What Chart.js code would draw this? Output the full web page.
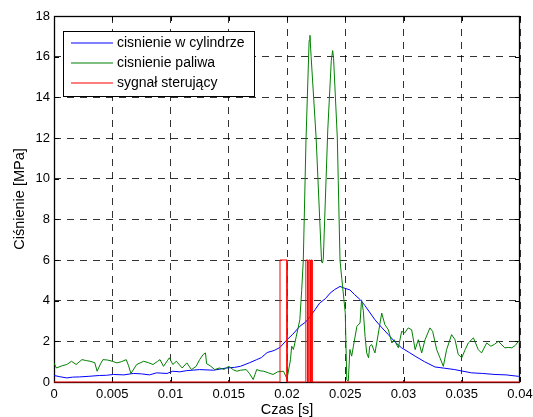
<!DOCTYPE html>
<html>
<head>
<meta charset="utf-8">
<script src="https://cdn.jsdelivr.net/npm/chart.js@4.4.1/dist/chart.umd.min.js"></script>
<style>
  html, body { margin: 0; padding: 0; background: #fff; }
</style>
</head>
<body>
<canvas id="chart" width="533" height="417"></canvas>
<script>
const seriesNames = ["cisnienie w cylindrze", "cisnienie paliwa", "sygnał sterujący"];
const seriesColors = ["rgb(0,0,255)", "rgb(0,128,0)", "rgb(255,0,0)"];

// cylinder pressure (blue)
const cylTime = [
  0.0000, 0.0005, 0.0011, 0.0016, 0.0022, 0.0030, 0.0039, 0.0045, 0.0051, 0.0060,
  0.0068, 0.0075, 0.0082, 0.0088, 0.0097, 0.0102, 0.0108, 0.0114, 0.0125, 0.0137,
  0.0148, 0.0155, 0.0160, 0.0168, 0.0174, 0.0178, 0.0183, 0.0189, 0.0194, 0.0200,
  0.0205, 0.0211, 0.0216, 0.0220, 0.0224, 0.0228, 0.0233, 0.0237, 0.0241, 0.02455,
  0.0249, 0.0254, 0.0258, 0.0263, 0.0267, 0.02755, 0.0281, 0.0287, 0.0293, 0.02984,
  0.0305, 0.0310, 0.0318, 0.0327, 0.0335, 0.0344, 0.0352, 0.03585, 0.0368, 0.03785,
  0.0388, 0.03985, 0.0400
];
const cylPressure = [
  0.32, 0.26, 0.20, 0.24, 0.25, 0.28, 0.32, 0.33, 0.37, 0.35,
  0.42, 0.40, 0.35, 0.45, 0.42, 0.53, 0.50, 0.56, 0.61, 0.58,
  0.69, 0.72, 0.77, 0.95, 1.10, 1.20, 1.45, 1.55, 1.70, 2.08,
  2.35, 2.74, 2.95, 3.23, 3.55, 3.88, 4.10, 4.37, 4.55, 4.70,
  4.62, 4.53, 4.30, 4.04, 3.75, 3.06, 2.70, 2.33, 1.95, 1.68,
  1.45, 1.27, 1.00, 0.74, 0.68, 0.61, 0.52, 0.45, 0.42, 0.37,
  0.35, 0.28, 0.30
];

// fuel pressure (green)
const fuelTime = [
  0.0000, 0.0002, 0.0007, 0.0011, 0.0015, 0.0019, 0.0024, 0.0028, 0.0031, 0.0035,
  0.0037, 0.0040, 0.0042, 0.0046, 0.0050, 0.0054, 0.0058, 0.0062, 0.0064, 0.0066,
  0.0071, 0.0077, 0.0081, 0.0085, 0.0089, 0.0091, 0.0094, 0.0099, 0.0102, 0.0105,
  0.0110, 0.0114, 0.0118, 0.0122, 0.0125, 0.0128, 0.0130, 0.0131, 0.0134, 0.0138,
  0.0142, 0.0146, 0.0150, 0.0154, 0.0157, 0.0160, 0.0165, 0.0168, 0.0171, 0.0174,
  0.0177, 0.0180, 0.0184, 0.0188, 0.0192, 0.0197, 0.0200, 0.0203, 0.0204, 0.02055,
  0.0208, 0.0211, 0.02126, 0.0214, 0.02163, 0.0219, 0.02197, 0.02207, 0.0225, 0.02297,
  0.02305, 0.02312, 0.0235, 0.0238, 0.02392, 0.0240, 0.02432, 0.0244, 0.02455, 0.0247,
  0.0250, 0.02513, 0.02526, 0.0254, 0.02555, 0.0257, 0.0260, 0.02627, 0.0264, 0.02655,
  0.0267, 0.02684, 0.0270, 0.0271, 0.02727, 0.02755, 0.0277, 0.0279, 0.02813, 0.0284,
  0.0287, 0.0290, 0.0292, 0.02956, 0.02984, 0.0301, 0.0304, 0.0307, 0.0310, 0.03127,
  0.03156, 0.03185, 0.03227, 0.0325, 0.03285, 0.03313, 0.03342, 0.0337, 0.03413, 0.03442,
  0.0347, 0.0350, 0.0353, 0.03556, 0.0360, 0.03642, 0.0367, 0.03714, 0.0375, 0.0378,
  0.03814, 0.0387, 0.0390, 0.0393, 0.0396, 0.03986, 0.0400
];
const fuelPressure = [
  0.94, 0.69, 0.80, 0.86, 1.02, 0.86, 1.10, 1.05, 1.02, 0.95,
  0.53, 0.90, 1.10, 1.08, 1.02, 0.94, 1.00, 1.10, 0.80, 0.42,
  0.86, 1.02, 0.95, 0.86, 1.02, 1.10, 0.77, 1.19, 0.86, 1.02,
  0.69, 0.94, 0.61, 0.77, 1.10, 1.35, 1.43, 0.90, 0.80, 0.61,
  0.69, 0.62, 0.77, 0.60, 0.53, 0.58, 0.61, 0.40, 0.12, 0.61,
  0.55, 0.53, 0.45, 0.37, 0.50, 0.53, 0.15, 1.10, 1.76, 1.60,
  2.25, 3.06, 4.50, 6.00, 11.90, 16.80, 17.05, 16.00, 12.00, 5.90,
  5.85, 6.10, 12.40, 15.80, 16.30, 15.90, 12.00, 9.90, 6.00, 5.10,
  3.40, 0.12, 0.04, 1.60, 1.27, 1.76, 2.74, 2.90, 4.04, 3.50,
  2.25, 1.43, 1.19, 1.76, 1.84, 1.43, 1.92, 2.60, 3.39, 2.82,
  2.57, 1.92, 2.08, 1.68, 2.49, 2.41, 2.66, 2.57, 1.59, 2.08,
  1.43, 2.08, 2.66, 2.49, 1.59, 1.19, 0.77, 1.59, 2.33, 2.08,
  1.35, 1.19, 1.60, 1.92, 2.17, 1.59, 1.43, 1.92, 1.76, 1.85,
  2.00, 1.68, 1.70, 1.68, 1.80, 2.00, 1.95
];

// control signal (red), step edges
const signalTime = [0, 0.0194, 0.0194, 0.0200, 0.0200, 0.02162, 0.02162, 0.02178, 0.02178,
  0.02188, 0.02188, 0.0220, 0.0220, 0.02207, 0.02207, 0.02215, 0.02215, 0.04];
const signalLevel = [0, 0, 6, 6, 0, 0, 6, 6, 0, 0, 6, 6, 0, 0, 6, 6, 0, 0];

const xTickLabels = ["0", "0.005", "0.01", "0.015", "0.02", "0.025", "0.03", "0.035", "0.04"];
const yTickLabels = ["0", "2", "4", "6", "8", "10", "12", "14", "16", "18"];

const FONT = "'Liberation Sans', Arial, Helvetica, sans-serif";

function toPoints(xs, ys) {
  return xs.map((x, i) => ({ x: x, y: ys[i] }));
}

// axes box + inward ticks, matlab style
const boxPlugin = {
  id: "box",
  beforeDatasetsDraw(chart) {
    const { ctx, chartArea: a, scales } = chart;
    ctx.save();
    ctx.strokeStyle = "#000";
    ctx.lineWidth = 1;
    ctx.beginPath();
    scales.x.ticks.forEach(t => {
      const px = Math.round(scales.x.getPixelForValue(t.value)) + 0.5;
      ctx.moveTo(px, a.bottom); ctx.lineTo(px, a.bottom - 5);
      ctx.moveTo(px, a.top); ctx.lineTo(px, a.top + 5);
    });
    scales.y.ticks.forEach(t => {
      const py = Math.round(scales.y.getPixelForValue(t.value)) + 0.5;
      ctx.moveTo(a.left, py); ctx.lineTo(a.left + 5, py);
      ctx.moveTo(a.right, py); ctx.lineTo(a.right - 5, py);
    });
    ctx.stroke();
    ctx.lineWidth = 1.3;
    ctx.strokeRect(a.left + 0.5, a.top + 0.5, a.right - a.left - 1, a.bottom - a.top);
    ctx.restore();
  }
};

const legendPlugin = {
  id: "boxLegend",
  afterDraw(chart) {
    const ctx = chart.ctx;
    const x0 = 63, y0 = 31, w = 191, h = 65;
    ctx.save();
    ctx.setLineDash([]);
    ctx.fillStyle = "#fff";
    ctx.fillRect(x0, y0, w, h);
    ctx.strokeStyle = "#000";
    ctx.lineWidth = 1;
    ctx.strokeRect(x0 + 0.5, y0 + 0.5, w, h);
    ctx.font = "14px " + FONT;
    ctx.textBaseline = "middle";
    for (let i = 0; i < seriesNames.length; i++) {
      const y = Math.round(y0 + 11.5 + i * 20.2);
      ctx.beginPath();
      ctx.strokeStyle = seriesColors[i];
      ctx.lineWidth = 1.2;
      ctx.moveTo(x0 + 8, y);
      ctx.lineTo(x0 + 50, y);
      ctx.stroke();
      ctx.fillStyle = "#000";
      ctx.fillText(seriesNames[i], x0 + 54, y);
    }
    ctx.restore();
  }
};

new Chart(document.getElementById("chart"), {
  type: "scatter",
  data: {
    datasets: [
      { label: seriesNames[0], data: toPoints(cylTime, cylPressure), borderColor: seriesColors[0], order: 2 },
      { label: seriesNames[1], data: toPoints(fuelTime, fuelPressure), borderColor: seriesColors[1], order: 1 },
      { label: seriesNames[2], data: toPoints(signalTime, signalLevel), borderColor: seriesColors[2], order: 0, clip: 3 }
    ].map(d => Object.assign({ showLine: true, pointRadius: 0, borderWidth: 1, tension: 0, fill: false }, d))
  },
  options: {
    responsive: false,
    animation: false,
    devicePixelRatio: 1,
    layout: { padding: { left: 0, right: 13, top: 16, bottom: 0 } },
    plugins: { legend: { display: false }, tooltip: { enabled: false } },
    scales: {
      x: {
        type: "linear",
        min: 0, max: 0.04,
        afterBuildTicks(scale) {
          scale.ticks = xTickLabels.map(s => ({ value: parseFloat(s) }));
        },
        ticks: {
          autoSkip: false, maxRotation: 0, padding: 5, color: "#000",
          font: { family: FONT, size: 13 },
          callback: (v, i) => xTickLabels[i]
        },
        grid: { color: "rgba(0,0,0,0.8)", lineWidth: 1, drawTicks: false },
        border: { display: false, dash: [7, 6] },
        title: { display: true, text: "Czas [s]", color: "#000", font: { family: FONT, size: 14.5, lineHeight: 1 }, padding: { top: 0, bottom: 0 } },
        afterFit(scale) { scale.height = 35; scale.paddingLeft = 0; scale.paddingRight = 0; }
      },
      y: {
        type: "linear",
        min: 0, max: 18,
        afterBuildTicks(scale) {
          scale.ticks = yTickLabels.map(s => ({ value: parseFloat(s) }));
        },
        ticks: {
          autoSkip: false, padding: 4, color: "#000",
          font: { family: FONT, size: 13 },
          callback: (v, i) => yTickLabels[i]
        },
        grid: { color: "rgba(0,0,0,0.8)", lineWidth: 1, drawTicks: false },
        border: { display: false, dash: [7, 6] },
        title: { display: true, text: "Ciśnienie [MPa]", color: "#000", font: { family: FONT, size: 14.5 }, padding: { top: 11, bottom: 0 } },
        afterFit(scale) { scale.width = 54; scale.paddingTop = 0; scale.paddingBottom = 0; }
      }
    }
  },
  plugins: [boxPlugin, legendPlugin]
});
</script>
</body>
</html>
